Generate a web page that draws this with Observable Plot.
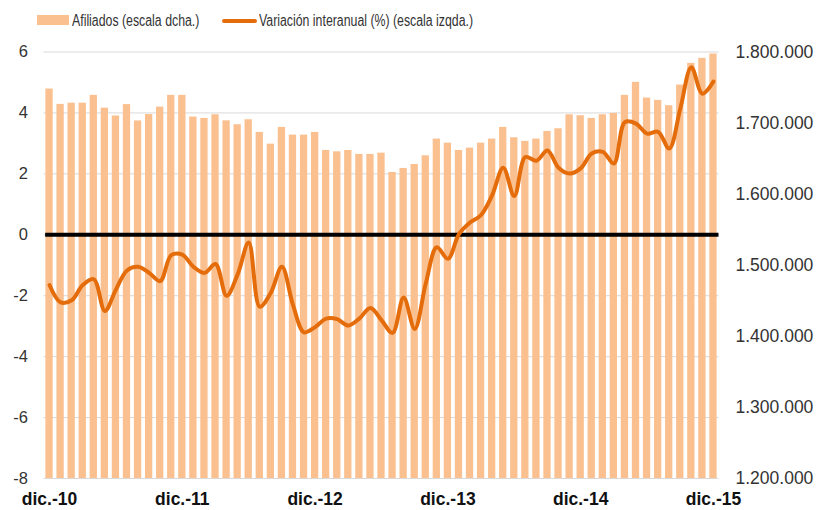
<!DOCTYPE html>
<html>
<head>
<meta charset="utf-8">
<script src="https://cdn.jsdelivr.net/npm/d3@7"></script>
<script src="https://cdn.jsdelivr.net/npm/@observablehq/plot@0.6"></script>
<style>
  html, body { margin: 0; padding: 0; background: #fff; }
  #wrap { width: 819px; height: 510px; position: relative; font-family: "Liberation Sans", Arial, sans-serif; }
  #legend { position: relative; height: 35px; width: 819px; }
  #legend .sw1 { position: absolute; left: 37px; top: 15px; width: 32px; height: 10px; background: #FAC090; }
  #legend .sw2 { position: absolute; left: 222px; top: 19px; width: 35px; height: 4px; background: #E46C0A; border-radius: 2px; }
  #legend .t { position: absolute; top: 11px; font-family: "Liberation Sans", Arial, sans-serif; font-size: 16px; color: #333; white-space: nowrap; line-height: 19px; transform: scaleX(0.77); transform-origin: 0 50%; }
</style>
</head>
<body>
<div id="wrap">
  <div id="legend">
    <div class="sw1"></div><div class="t" style="left:72px">Afiliados (escala dcha.)</div>
    <div class="sw2"></div><div class="t" style="left:259px">Variación interanual (%) (escala izqda.)</div>
  </div>
  <div id="chart"></div>
</div>
<script>
// Afiliados (right scale), monthly, dic.-10 .. dic.-15
const afiliados = [
  1747900, 1726300, 1728000, 1728000, 1739000, 1721000, 1710000, 1726000, 1703000, 1712000, 1722500, 1739000,
  1739000, 1708500, 1706600, 1711700, 1703200, 1697700, 1704700, 1686900, 1670400, 1693900, 1683100, 1683100,
  1686900, 1661500, 1659600, 1661500, 1655900, 1655900, 1657700, 1630500, 1636200, 1641800, 1654000, 1677500,
  1671800, 1661500, 1664800, 1671800, 1677500, 1693900, 1679300, 1674200, 1677500, 1688300, 1692000, 1711700,
  1710300, 1706600, 1711700, 1713600, 1739000, 1757300, 1735200, 1731900, 1724400, 1753500, 1784000, 1791100,
  1797200
];
// Variación interanual (%) (left scale)
const variacion = [
  -1.65, -2.22, -2.15, -1.65, -1.46, -2.5, -1.8, -1.17, -1.05, -1.25, -1.52, -0.67,
  -0.65, -1.05, -1.25, -0.96, -2.0, -1.3, -0.25, -2.36, -1.9, -1.05, -2.3, -3.2,
  -3.03, -2.75, -2.77, -2.98, -2.75, -2.4, -2.8, -3.22, -2.06, -3.09, -1.6, -0.41,
  -0.79, 0.02, 0.4, 0.65, 1.3, 2.2, 1.27, 2.55, 2.43, 2.77, 2.2, 2.01,
  2.18, 2.67, 2.72, 2.34, 3.7, 3.65, 3.32, 3.38, 2.83, 4.14, 5.5, 4.63,
  5.03
];
const xTickLabels = ["dic.-10", "dic.-11", "dic.-12", "dic.-13", "dic.-14", "dic.-15"];
const leftTicks = [-8, -6, -4, -2, 0, 2, 4, 6];
const rightTicks = [1200000, 1300000, 1400000, 1500000, 1600000, 1700000, 1800000];

const leftDomain = [-8, 6];
const rightDomain = [1200000, 1800000];
const toLeft = v => leftDomain[0] + (v - rightDomain[0]) / (rightDomain[1] - rightDomain[0]) * (leftDomain[1] - leftDomain[0]);
const fromLeft = l => rightDomain[0] + (l - leftDomain[0]) / (leftDomain[1] - leftDomain[0]) * (rightDomain[1] - rightDomain[0]);
const fmtES = v => d3.format(",")(Math.round(v)).replace(/,/g, ".");

const idx = d3.range(afiliados.length);

const chart = Plot.plot({
  width: 819,
  height: 475,
  marginTop: 16.5,
  marginBottom: 32,
  marginLeft: 43.5,
  marginRight: 100.5,
  style: { fontFamily: "'Liberation Sans', Arial, sans-serif", background: "#fff", color: "#333", overflow: "visible" },
  x: { type: "linear", domain: [-0.5, afiliados.length - 0.5] },
  y: { type: "linear", domain: leftDomain },
  marks: [
    Plot.gridY(leftTicks, { stroke: "#d9d9d9", strokeOpacity: 1, strokeWidth: 1 }),
    Plot.rect(idx, {
      x1: i => i - 0.33,
      x2: i => i + 0.33,
      y1: leftDomain[0],
      y2: i => toLeft(afiliados[i]),
      fill: "#FAC090"
    }),
    Plot.ruleY([0], { stroke: "#000", strokeWidth: 4, x1: -0.35, x2: afiliados.length - 0.5 }),
    Plot.line(idx, {
      x: i => i,
      y: i => variacion[i],
      stroke: "#E46C0A",
      strokeWidth: 4,
      curve: "catmull-rom",
      strokeLinejoin: "round",
      strokeLinecap: "round"
    }),
    Plot.axisY({ anchor: "left", ticks: leftTicks, tickFormat: d => String(d), tickSize: 0, tickPadding: 16, fontSize: 16.5, fill: "#333", label: null }),
    Plot.axisY({
      anchor: "right",
      ticks: rightTicks.map(toLeft),
      tickFormat: d => fmtES(fromLeft(d)),
      tickSize: 0, tickPadding: 16.5, fontSize: 17.5, fill: "#333", label: null, textAnchor: "start"
    }),
    Plot.axisX({
      ticks: xTickLabels.map((_, k) => k * 12),
      tickFormat: d => xTickLabels[Math.round(d / 12)],
      tickSize: 0, tickPadding: 14, fontSize: 17.5, fontWeight: "bold", fill: "#111", label: null
    })
  ]
});
document.getElementById("chart").appendChild(chart);
</script>
</body>
</html>
